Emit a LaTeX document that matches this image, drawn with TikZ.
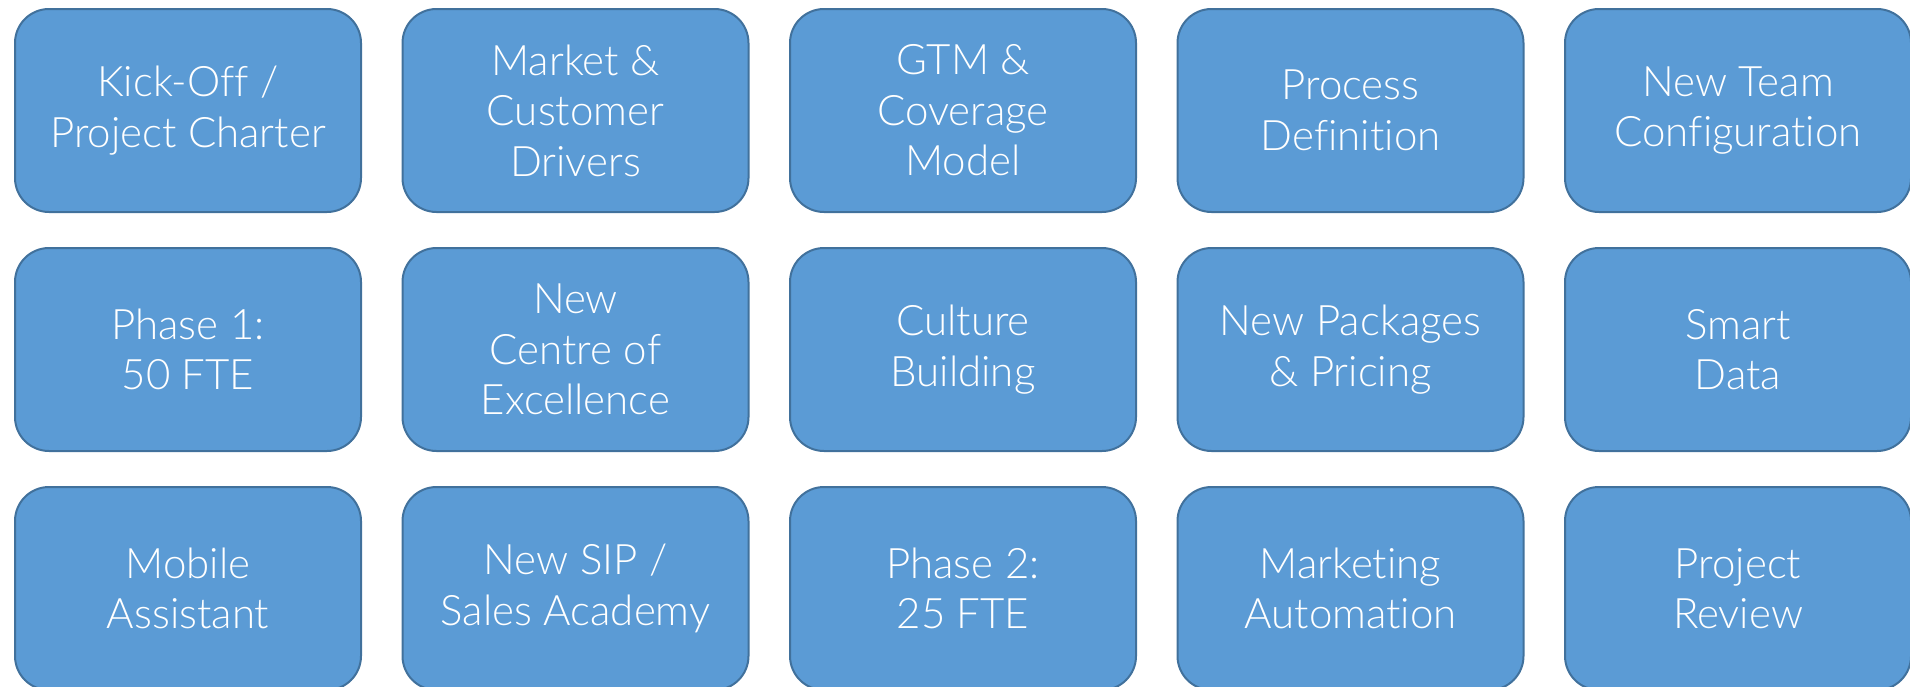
\documentclass[tikz,border=0pt]{standalone}
\usepackage{fontspec}
\setmainfont{Lato}[UprightFont={* Light}, Ligatures={NoCommon}]
\usepackage{tikz}
\definecolor{boxfill}{HTML}{5B9BD5}
\definecolor{boxline}{HTML}{41719C}
\tikzset{
  item/.style = {draw=boxline, line width=1pt, fill=boxfill, rounded corners=17pt,
    minimum width=173pt, minimum height=101.5pt, inner sep=0pt, align=center,
    text=white, font=\fontsize{21}{25.25}\selectfont}
}
\begin{document}
\begin{tikzpicture}[x=0.5pt, y=-0.5pt]
  \useasboundingbox (0,0) rectangle (1910,686);
  \node[item] (kickoff) at (188,110.5) {Kick-Off /\\Project Charter};
  \node[item] (market) at (575.5,110.5) {Market \&\\Customer\\Drivers};
  \node[item] (gtm) at (963,110.5) {GTM \&\\Coverage\\Model};
  \node[item] (process) at (1350.5,110.5) {Process\\Definition};
  \node[item] (team) at (1738,110.5) {New Team\\Configuration};
  \node[item] (phase1) at (188,349.5) {Phase 1:\\50 FTE};
  \node[item] (coe) at (575.5,349.5) {New\\Centre of\\Excellence};
  \node[item] (culture) at (963,349.5) {Culture\\Building};
  \node[item] (packages) at (1350.5,349.5) {New Packages\\\& Pricing};
  \node[item] (smart) at (1738,349.5) {Smart\\Data};
  \node[item] (mobile) at (188,588.5) {Mobile\\Assistant};
  \node[item] (sip) at (575.5,588.5) {New SIP /\\Sales Academy};
  \node[item] (phase2) at (963,588.5) {Phase 2:\\25 FTE};
  \node[item] (automation) at (1350.5,588.5) {Marketing\\Automation};
  \node[item] (review) at (1738,588.5) {Project\\Review};
\end{tikzpicture}
\end{document}
